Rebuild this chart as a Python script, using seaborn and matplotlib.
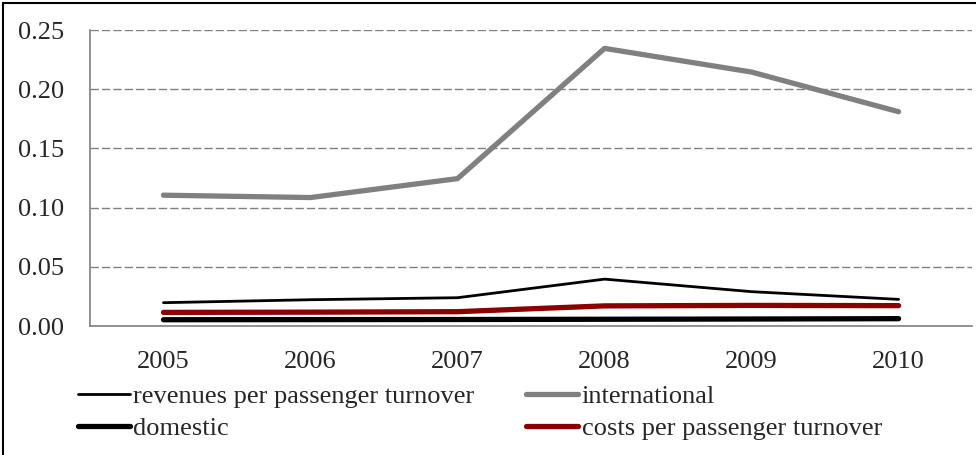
import matplotlib
matplotlib.use("Agg")
import matplotlib.pyplot as plt
import seaborn as sns
import pandas as pd
import numpy as np
from matplotlib.lines import Line2D

years = ["2005", "2006", "2007", "2008", "2009", "2010"]
revenues = [0.0197, 0.0222, 0.0239, 0.0396, 0.0290, 0.0225]
international = [0.1105, 0.1085, 0.1245, 0.2345, 0.2145, 0.1810]
domestic = [0.0053, 0.0054, 0.0055, 0.0057, 0.0059, 0.0062]
costs = [0.0115, 0.0117, 0.0121, 0.0170, 0.0174, 0.0172]

series_names = ["revenues per passenger turnover", "international",
                "domestic", "costs per passenger turnover"]
series_values = [revenues, international, domestic, costs]
series_colors = ["#000000", "#808080", "#000000", "#8B0000"]
series_widths = [2.0, 3.8, 3.8, 3.8]
y_ticks = [0.00, 0.05, 0.10, 0.15, 0.20, 0.25]

sns.set_style("white")
plt.rcParams["font.family"] = ["Liberation Serif", "DejaVu Serif"]
FS = 19

fig = plt.figure(figsize=(9.76, 4.55), dpi=100)
ax = fig.add_axes([0.0922, 0.2835, 0.996 - 0.0922, 0.934 - 0.2835])

xpos = np.arange(len(years))
handles = {}
for name, vals, col, lw in zip(series_names, series_values, series_colors, series_widths):
    df = pd.DataFrame({"x": xpos, "y": vals})
    sns.lineplot(data=df, x="x", y="y", color=col, linewidth=lw, ax=ax,
                 solid_capstyle="round", label=name, legend=False)
    handles[name] = ax.lines[-1]

ax.set_xlim(-0.5, len(years) - 0.5)
ax.set_ylim(0, 0.25)
ax.set_xlabel("")
ax.set_ylabel("")

# category boundaries as tick marks, labels at centers
ax.set_xticks(np.arange(-0.5, len(years), 1.0))
ax.set_xticklabels([])
ax.set_xticks(xpos, minor=True)
ax.set_xticklabels(years, minor=True)
ax.tick_params(axis="x", which="major", length=5.5, width=1.2, color="#808080", direction="out")
ax.tick_params(axis="x", which="minor", length=0, labelsize=FS, pad=18)

ax.set_yticks(y_ticks)
ax.set_yticklabels([f"{v:.2f}" for v in y_ticks])
ax.tick_params(axis="y", length=5.5, width=1.2, color="#808080", direction="out",
               labelsize=FS, pad=13)

ax.yaxis.grid(True, linestyle=(0, (6, 2.2)), color="#808080", linewidth=1)
ax.xaxis.grid(False)
ax.set_axisbelow(True)
for s in ["top", "right"]:
    ax.spines[s].set_visible(False)
for s in ["left", "bottom"]:
    ax.spines[s].set_color("#808080")
    ax.spines[s].set_linewidth(1.2)

order = [series_names[0], series_names[2], series_names[1], series_names[3]]
leg = fig.legend([handles[n] for n in order], order, ncol=2,
                 loc="upper left", bbox_to_anchor=(0.080, 0.154),
                 frameon=False, fontsize=FS, handlelength=1.95, handletextpad=0.15,
                 columnspacing=1.95, labelspacing=0.30, borderaxespad=0, borderpad=0)

# outer chart-area border (left and top edges visible in the reference)
fig.add_artist(Line2D([3 / 976, 3 / 976], [0, 1 - 3 / 455], transform=fig.transFigure,
                      color="black", linewidth=1.5))
fig.add_artist(Line2D([3 / 976, 1], [1 - 3 / 455, 1 - 3 / 455], transform=fig.transFigure,
                      color="black", linewidth=1.5))

fig.savefig("out.png", dpi=100)
